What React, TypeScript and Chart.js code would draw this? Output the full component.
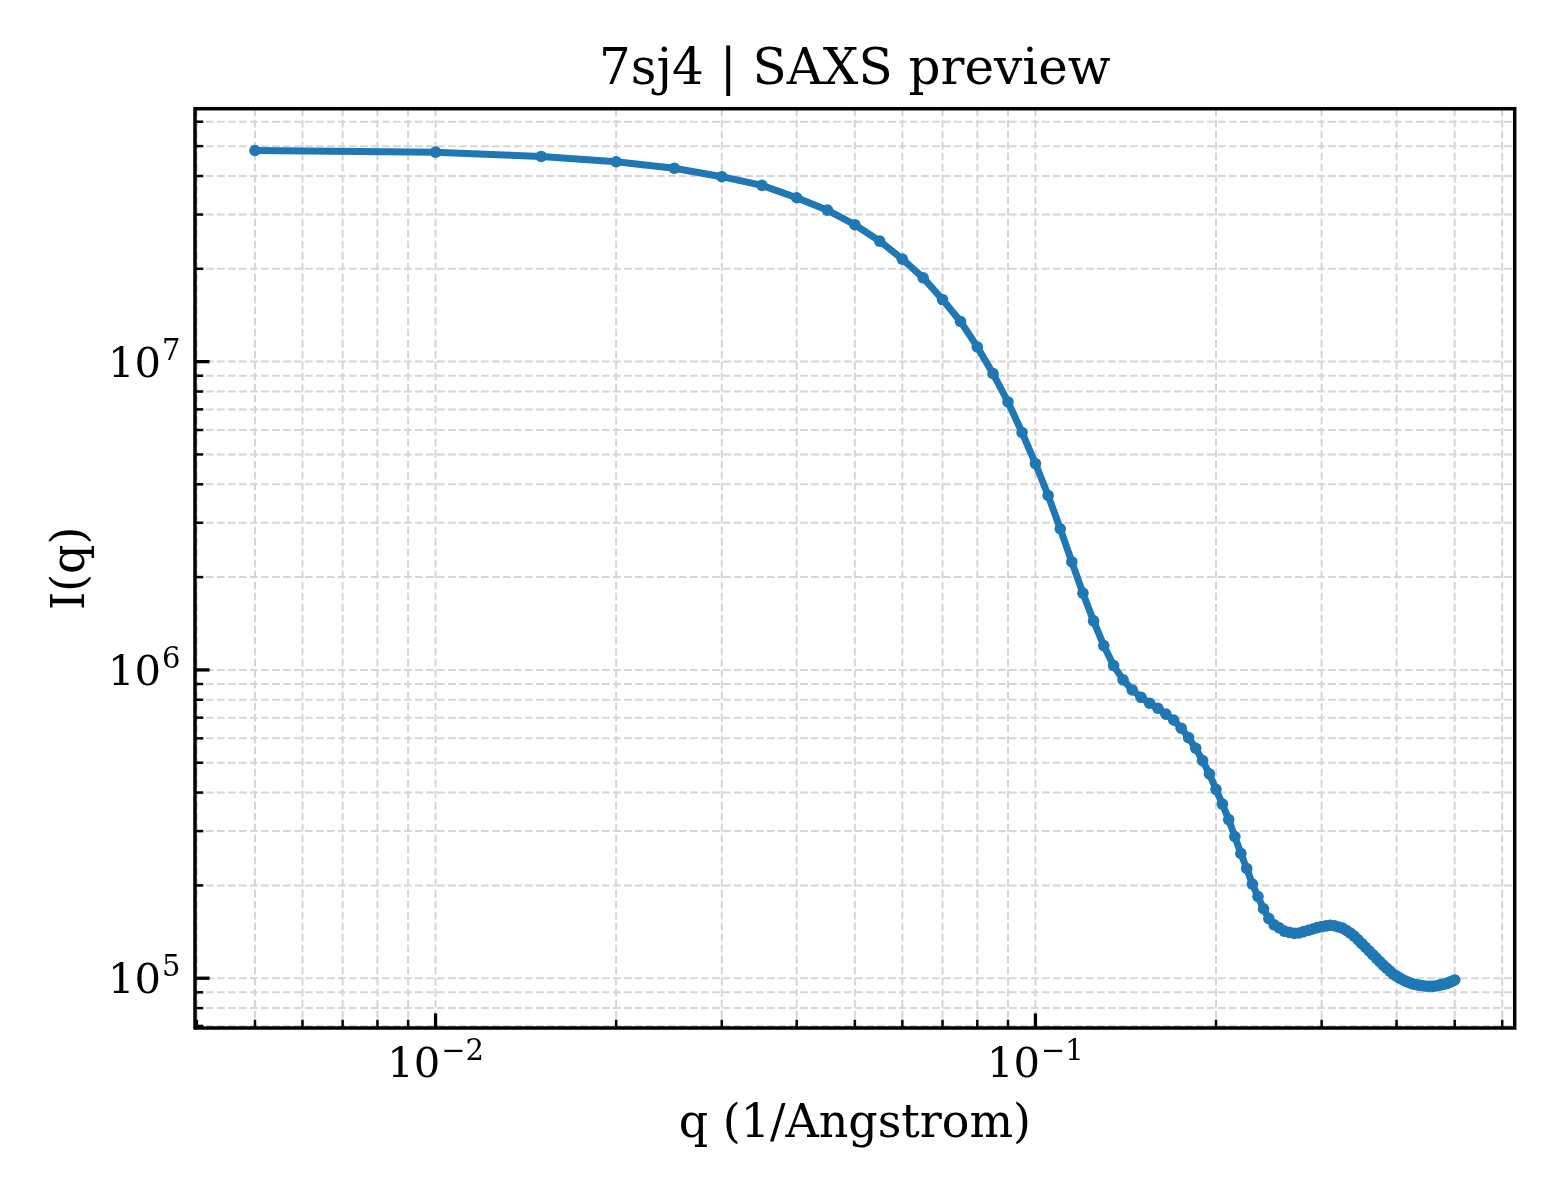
import { useEffect, useRef } from "react";
import { Chart, registerables, Plugin } from "chart.js";

Chart.register(...registerables);

// scattering vector q (1/Angstrom)
const qValues = [
  0.005, 0.01, 0.015, 0.02, 0.025, 0.03, 0.035, 0.04, 0.045, 0.05,
  0.055, 0.06, 0.065, 0.07, 0.075, 0.08, 0.085, 0.09, 0.095, 0.1,
  0.105, 0.11, 0.115, 0.12, 0.125, 0.13, 0.135, 0.14, 0.145, 0.15,
  0.155, 0.16, 0.165, 0.17, 0.175, 0.18, 0.185, 0.19, 0.195, 0.2,
  0.205, 0.21, 0.215, 0.22, 0.225, 0.23, 0.235, 0.24, 0.245, 0.25,
  0.255, 0.26, 0.265, 0.27, 0.275, 0.28, 0.285, 0.29, 0.295, 0.3,
  0.305, 0.31, 0.315, 0.32, 0.325, 0.33, 0.335, 0.34, 0.345, 0.35,
  0.355, 0.36, 0.365, 0.37, 0.375, 0.38, 0.385, 0.39, 0.395, 0.4,
  0.405, 0.41, 0.415, 0.42, 0.425, 0.43, 0.435, 0.44, 0.445, 0.45,
  0.455, 0.46, 0.465, 0.47, 0.475, 0.48, 0.485, 0.49, 0.495, 0.5,
];

// I(q)
const intensity = [
  4.84e7, 4.78e7, 4.63e7, 4.45e7, 4.24e7, 3.98e7, 3.73e7, 3.4e7, 3.1e7, 2.78e7,
  2.46e7, 2.15e7, 1.87e7, 1.59e7, 1.35e7, 1.116e7, 9.14e6, 7.4e6, 5.89e6, 4.67e6,
  3.68e6, 2.87e6, 2.24e6, 1.774e6, 1.442e6, 1.199e6, 1.033e6, 9.28e5, 8.61e5, 8.15e5,
  7.8e5, 7.51e5, 7.19e5, 6.88e5, 6.47e5, 6.03e5, 5.57e5, 5.08e5, 4.6e5, 4.1e5,
  3.67e5, 3.27e5, 2.88e5, 2.54e5, 2.27e5, 2.02e5, 1.84e5, 1.68e5, 1.56e5, 1.49e5,
  1.457e5, 1.421e5, 1.408e5, 1.398e5, 1.402e5, 1.416e5, 1.43e5, 1.444e5, 1.459e5, 1.47e5,
  1.478e5, 1.485e5, 1.48e5, 1.466e5, 1.454e5, 1.428e5, 1.4e5, 1.37e5, 1.332e5, 1.295e5,
  1.26e5, 1.226e5, 1.193e5, 1.162e5, 1.132e5, 1.103e5, 1.078e5, 1.054e5, 1.03e5, 1.016e5,
  1.001e5, 9.87e4, 9.77e4, 9.68e4, 9.59e4, 9.54e4, 9.5e4, 9.47e4, 9.44e4, 9.42e4,
  9.42e4, 9.42e4, 9.44e4, 9.48e4, 9.53e4, 9.57e4, 9.61e4, 9.7e4, 9.78e4, 9.87e4,
];

// grid / tick positions (log decades with minors)
const xTicks = [
  0.004, 0.005, 0.006, 0.007, 0.008, 0.009,
  0.01, 0.02, 0.03, 0.04, 0.05, 0.06, 0.07, 0.08, 0.09,
  0.1, 0.2, 0.3, 0.4, 0.5, 0.6,
];
const yTicks = [
  7e4, 8e4, 9e4,
  1e5, 2e5, 3e5, 4e5, 5e5, 6e5, 7e5, 8e5, 9e5,
  1e6, 2e6, 3e6, 4e6, 5e6, 6e6, 7e6, 8e6, 9e6,
  1e7, 2e7, 3e7, 4e7, 5e7, 6e7,
];
const xMajor = [0.01, 0.1];
const xMajorExp = ["\u22122", "\u22121"];
const yMajor = [1e5, 1e6, 1e7];
const yMajorExp = ["5", "6", "7"];

const TITLE = "7sj4 | SAXS preview";
const X_LABEL = "q (1/Angstrom)";
const Y_LABEL = "I(q)";

const FONT = '"DejaVu Serif", serif';
const LINE_COLOR = "#1f77b4";

// matplotlib-like 5% margins in log space
function logLimits(values: number[]) {
  const lo = Math.log10(Math.min(...values));
  const hi = Math.log10(Math.max(...values));
  const m = (hi - lo) * 0.05;
  return { min: Math.pow(10, lo - m), max: Math.pow(10, hi + m) };
}

const frame: Plugin<"line"> = {
  id: "mplFrame",
  beforeDatasetsDraw(chart) {
    const { ctx, chartArea: a, scales } = chart;
    const xs = scales.x;
    const ys = scales.y;
    ctx.save();
    ctx.strokeStyle = "#d6d6d6";
    ctx.lineWidth = 2;
    ctx.setLineDash([7.7, 3.3]);
    xTicks.forEach((t) => {
      const px = xs.getPixelForValue(t);
      if (px < a.left || px > a.right) return;
      ctx.beginPath();
      ctx.moveTo(px, a.top);
      ctx.lineTo(px, a.bottom);
      ctx.stroke();
    });
    yTicks.forEach((t) => {
      const py = ys.getPixelForValue(t);
      if (py < a.top || py > a.bottom) return;
      ctx.beginPath();
      ctx.moveTo(a.left, py);
      ctx.lineTo(a.right, py);
      ctx.stroke();
    });
    ctx.restore();
  },
  afterDatasetsDraw(chart) {
    const { ctx, chartArea: a, scales } = chart;
    const xs = scales.x;
    const ys = scales.y;
    ctx.save();
    ctx.setLineDash([]);
    ctx.strokeStyle = "#000";

    // ticks, pointing inwards
    xTicks.forEach((t) => {
      const px = xs.getPixelForValue(t);
      if (px < a.left || px > a.right) return;
      const major = xMajor.includes(t);
      ctx.lineWidth = major ? 3.3 : 2.5;
      ctx.beginPath();
      ctx.moveTo(px, a.bottom);
      ctx.lineTo(px, a.bottom - (major ? 14.6 : 8.3));
      ctx.stroke();
    });
    yTicks.forEach((t) => {
      const py = ys.getPixelForValue(t);
      if (py < a.top || py > a.bottom) return;
      const major = yMajor.includes(t);
      ctx.lineWidth = major ? 3.3 : 2.5;
      ctx.beginPath();
      ctx.moveTo(a.left, py);
      ctx.lineTo(a.left + (major ? 14.6 : 8.3), py);
      ctx.stroke();
    });

    // frame
    ctx.lineWidth = 3.5;
    ctx.strokeRect(a.left, a.top, a.right - a.left, a.bottom - a.top);

    // tick labels 10^n
    ctx.fillStyle = "#000";
    ctx.textBaseline = "alphabetic";
    ctx.textAlign = "left";
    const mainFont = `41.7px ${FONT}`;
    const supFont = `29px ${FONT}`;
    const measure = (exp: string) => {
      ctx.font = mainFont;
      const w1 = ctx.measureText("10").width;
      ctx.font = supFont;
      const w2 = ctx.measureText(exp).width;
      return { w1, w2 };
    };
    const drawPow = (exp: string, left: number, base: number, w1: number) => {
      ctx.font = mainFont;
      ctx.fillText("10", left, base);
      ctx.font = supFont;
      ctx.fillText(exp, left + w1 + 1, base - 17);
    };
    xMajor.forEach((t, i) => {
      const px = xs.getPixelForValue(t);
      const { w1, w2 } = measure(xMajorExp[i]);
      drawPow(xMajorExp[i], px - (w1 + w2 + 1) / 2, a.bottom + 48.5, w1);
    });
    yMajor.forEach((t, i) => {
      const py = ys.getPixelForValue(t);
      const { w1, w2 } = measure(yMajorExp[i]);
      drawPow(yMajorExp[i], a.left - 14.6 - (w1 + w2 + 1), py + 15, w1);
    });

    // title and axis labels
    const cx = (a.left + a.right) / 2;
    const cy = (a.top + a.bottom) / 2;
    ctx.textAlign = "center";
    ctx.font = `50px ${FONT}`;
    ctx.fillText(TITLE, cx, a.top - 24.5);
    ctx.font = `46px ${FONT}`;
    ctx.fillText(X_LABEL, cx, a.bottom + 108.5);
    ctx.translate(84, cy);
    ctx.rotate(-Math.PI / 2);
    ctx.fillText(Y_LABEL, 0, 0);
    ctx.restore();
  },
};

export default function App() {
  const canvasRef = useRef<HTMLCanvasElement | null>(null);

  useEffect(() => {
    if (!canvasRef.current) return;
    const ctx = canvasRef.current.getContext("2d");
    if (!ctx) return;

    const xLim = logLimits(qValues);
    const yLim = logLimits(intensity);

    const chart = new Chart(ctx, {
      type: "line",
      data: {
        datasets: [
          {
            label: "SAXS",
            data: qValues.map((q, i) => ({ x: q, y: intensity[i] })),
            borderColor: LINE_COLOR,
            backgroundColor: LINE_COLOR,
            borderWidth: 7,
            pointRadius: 5.8,
            pointBorderWidth: 0,
            pointBackgroundColor: LINE_COLOR,
            tension: 0,
            fill: false,
          },
        ],
      },
      options: {
        animation: false,
        responsive: true,
        maintainAspectRatio: false,
        devicePixelRatio: 1,
        layout: {
          padding: { left: 195, right: 45.3, top: 108.7, bottom: 172 },
        },
        plugins: {
          legend: { display: false },
          tooltip: { enabled: false },
        },
        scales: {
          x: {
            type: "logarithmic",
            display: false,
            bounds: "data",
            min: xLim.min,
            max: xLim.max,
          },
          y: {
            type: "logarithmic",
            display: false,
            bounds: "data",
            min: yLim.min,
            max: yLim.max,
          },
        },
      },
      plugins: [frame],
    });

    return () => {
      chart.destroy();
    };
  }, []);

  return (
    <div
      style={{
        position: "absolute",
        left: 0,
        top: 0,
        width: 1560,
        height: 1200,
        background: "#fff",
      }}
    >
      <canvas ref={canvasRef}></canvas>
    </div>
  );
}
